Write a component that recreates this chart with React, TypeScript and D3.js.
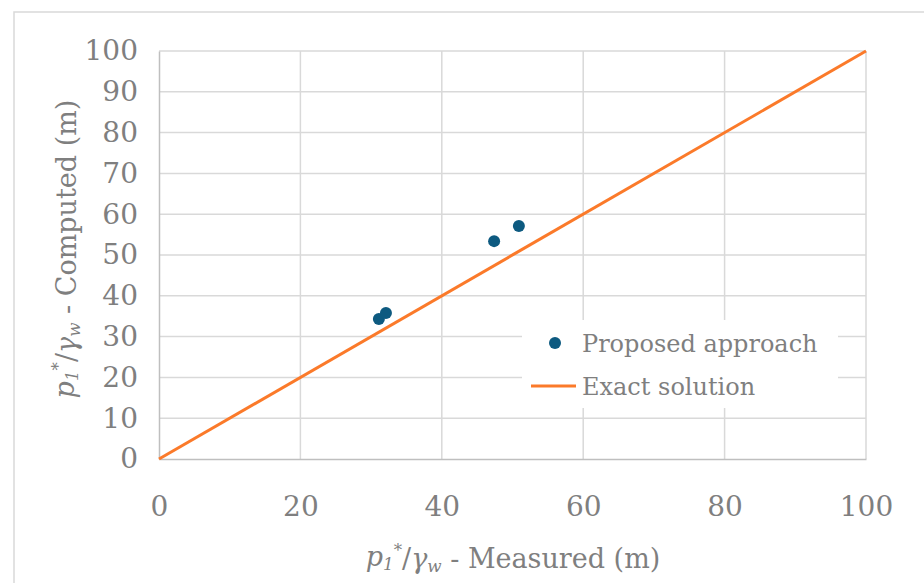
import React, { useEffect, useRef } from 'react';
import * as d3 from 'd3';

const measured = [31.1, 32.1, 47.4, 50.9];
const computed = [34.3, 35.8, 53.4, 57.1];
const exactLine = [0, 100];
const xTicks = [0, 20, 40, 60, 80, 100];
const yTicks = [0, 10, 20, 30, 40, 50, 60, 70, 80, 90, 100];
const seriesNames = ['Proposed approach', 'Exact solution'];

const W = 924;
const H = 583;
const FONT = '"DejaVu Serif", "Liberation Serif", serif';
const TEXT = '#7f7f7f';
const DOT = '#0d5a80';
const ORANGE = '#fb7a2a';

function addMathLabel(sel: any, rest: string) {
  sel.append('tspan').attr('font-style', 'italic').text('p');
  sel.append('tspan').attr('font-style', 'italic').attr('font-size', '0.62em').attr('dy', '0.25em').text('1');
  sel.append('tspan').attr('font-size', '0.62em').attr('dy', '-0.85em').text('*');
  sel.append('tspan').attr('dy', '0.45em').text('/');
  sel.append('tspan').attr('font-style', 'italic').text('γ');
  sel.append('tspan').attr('font-style', 'italic').attr('font-size', '0.62em').attr('dy', '0.25em').text('w');
  sel.append('tspan').attr('dy', '-0.15em').text(rest);
}

export default function App() {
  const ref = useRef<SVGSVGElement>(null);

  useEffect(() => {
    const svg = d3.select(ref.current);
    svg.selectAll('*').remove();

    const margin = { left: 159, right: 58, top: 51, bottom: 124 };
    const x = d3.scaleLinear().domain([0, 100]).range([margin.left, W - margin.right]);
    const y = d3.scaleLinear().domain([0, 100]).range([H - margin.bottom, margin.top]);

    svg.append('rect').attr('width', W).attr('height', H).attr('fill', '#fff');
    // chart frame
    svg.append('rect')
      .attr('x', 14).attr('y', 12).attr('width', W + 20).attr('height', H + 20)
      .attr('fill', 'none').attr('stroke', '#d9d9d9').attr('stroke-width', 1.5);

    // gridlines
    svg.append('g').selectAll('line').data(yTicks.filter(d => d > 0)).enter().append('line')
      .attr('x1', x(0)).attr('x2', x(100))
      .attr('y1', d => y(d)).attr('y2', d => y(d))
      .attr('stroke', '#d9d9d9').attr('stroke-width', 1.5);
    svg.append('g').selectAll('line').data(xTicks.filter(d => d > 0)).enter().append('line')
      .attr('y1', y(0)).attr('y2', y(100))
      .attr('x1', d => x(d)).attr('x2', d => x(d))
      .attr('stroke', '#d9d9d9').attr('stroke-width', 1.5);

    // axes
    const xAxis = d3.axisBottom(x).tickValues(xTicks).tickSize(0).tickPadding(37);
    const gx = svg.append('g').attr('transform', `translate(0,${y(0)})`).call(xAxis);
    gx.select('.domain').attr('stroke', '#bfbfbf').attr('stroke-width', 1.5);
    gx.selectAll('text').attr('fill', TEXT).attr('font-family', FONT).attr('font-size', 28);

    const yAxis = d3.axisLeft(y).tickValues(yTicks).tickSize(0).tickPadding(21);
    const gy = svg.append('g').attr('transform', `translate(${x(0)},0)`).call(yAxis);
    gy.select('.domain').attr('stroke', '#bfbfbf').attr('stroke-width', 1.5);
    gy.selectAll('text').attr('fill', TEXT).attr('font-family', FONT).attr('font-size', 28);

    // exact line
    const line = d3.line<number>().x(d => x(d)).y(d => y(d));
    svg.append('path').datum(exactLine).attr('d', line)
      .attr('fill', 'none').attr('stroke', ORANGE).attr('stroke-width', 3);

    // points
    svg.append('g').selectAll('circle').data(measured).enter().append('circle')
      .attr('cx', d => x(d)).attr('cy', (d, i) => y(computed[i]))
      .attr('r', 6).attr('fill', DOT);

    // legend
    const lg = svg.append('g');
    lg.append('rect').attr('x', 522).attr('y', 320).attr('width', 316).attr('height', 88).attr('fill', '#fff');
    lg.append('circle').attr('cx', 555).attr('cy', 343).attr('r', 6).attr('fill', DOT);
    lg.append('text').attr('x', 582).attr('y', 352).attr('fill', TEXT)
      .attr('font-family', FONT).attr('font-size', 24).text(seriesNames[0]);
    lg.append('line').attr('x1', 531).attr('x2', 576).attr('y1', 386).attr('y2', 386)
      .attr('stroke', ORANGE).attr('stroke-width', 3);
    lg.append('text').attr('x', 582).attr('y', 395).attr('fill', TEXT)
      .attr('font-family', FONT).attr('font-size', 24).text(seriesNames[1]);

    // axis titles
    const xt = svg.append('text').attr('x', 513).attr('y', 566).attr('text-anchor', 'middle')
      .attr('fill', TEXT).attr('font-family', FONT).attr('font-size', 27);
    addMathLabel(xt, ' - Measured (m)');

    const yt = svg.append('text').attr('transform', 'translate(74,249) rotate(-90)')
      .attr('text-anchor', 'middle')
      .attr('fill', TEXT).attr('font-family', FONT).attr('font-size', 27);
    addMathLabel(yt, ' - Computed (m)');
  }, []);

  return (
    <svg ref={ref} width={W} height={H}
      style={{ position: 'absolute', left: 0, top: 0, display: 'block' }} />
  );
}
